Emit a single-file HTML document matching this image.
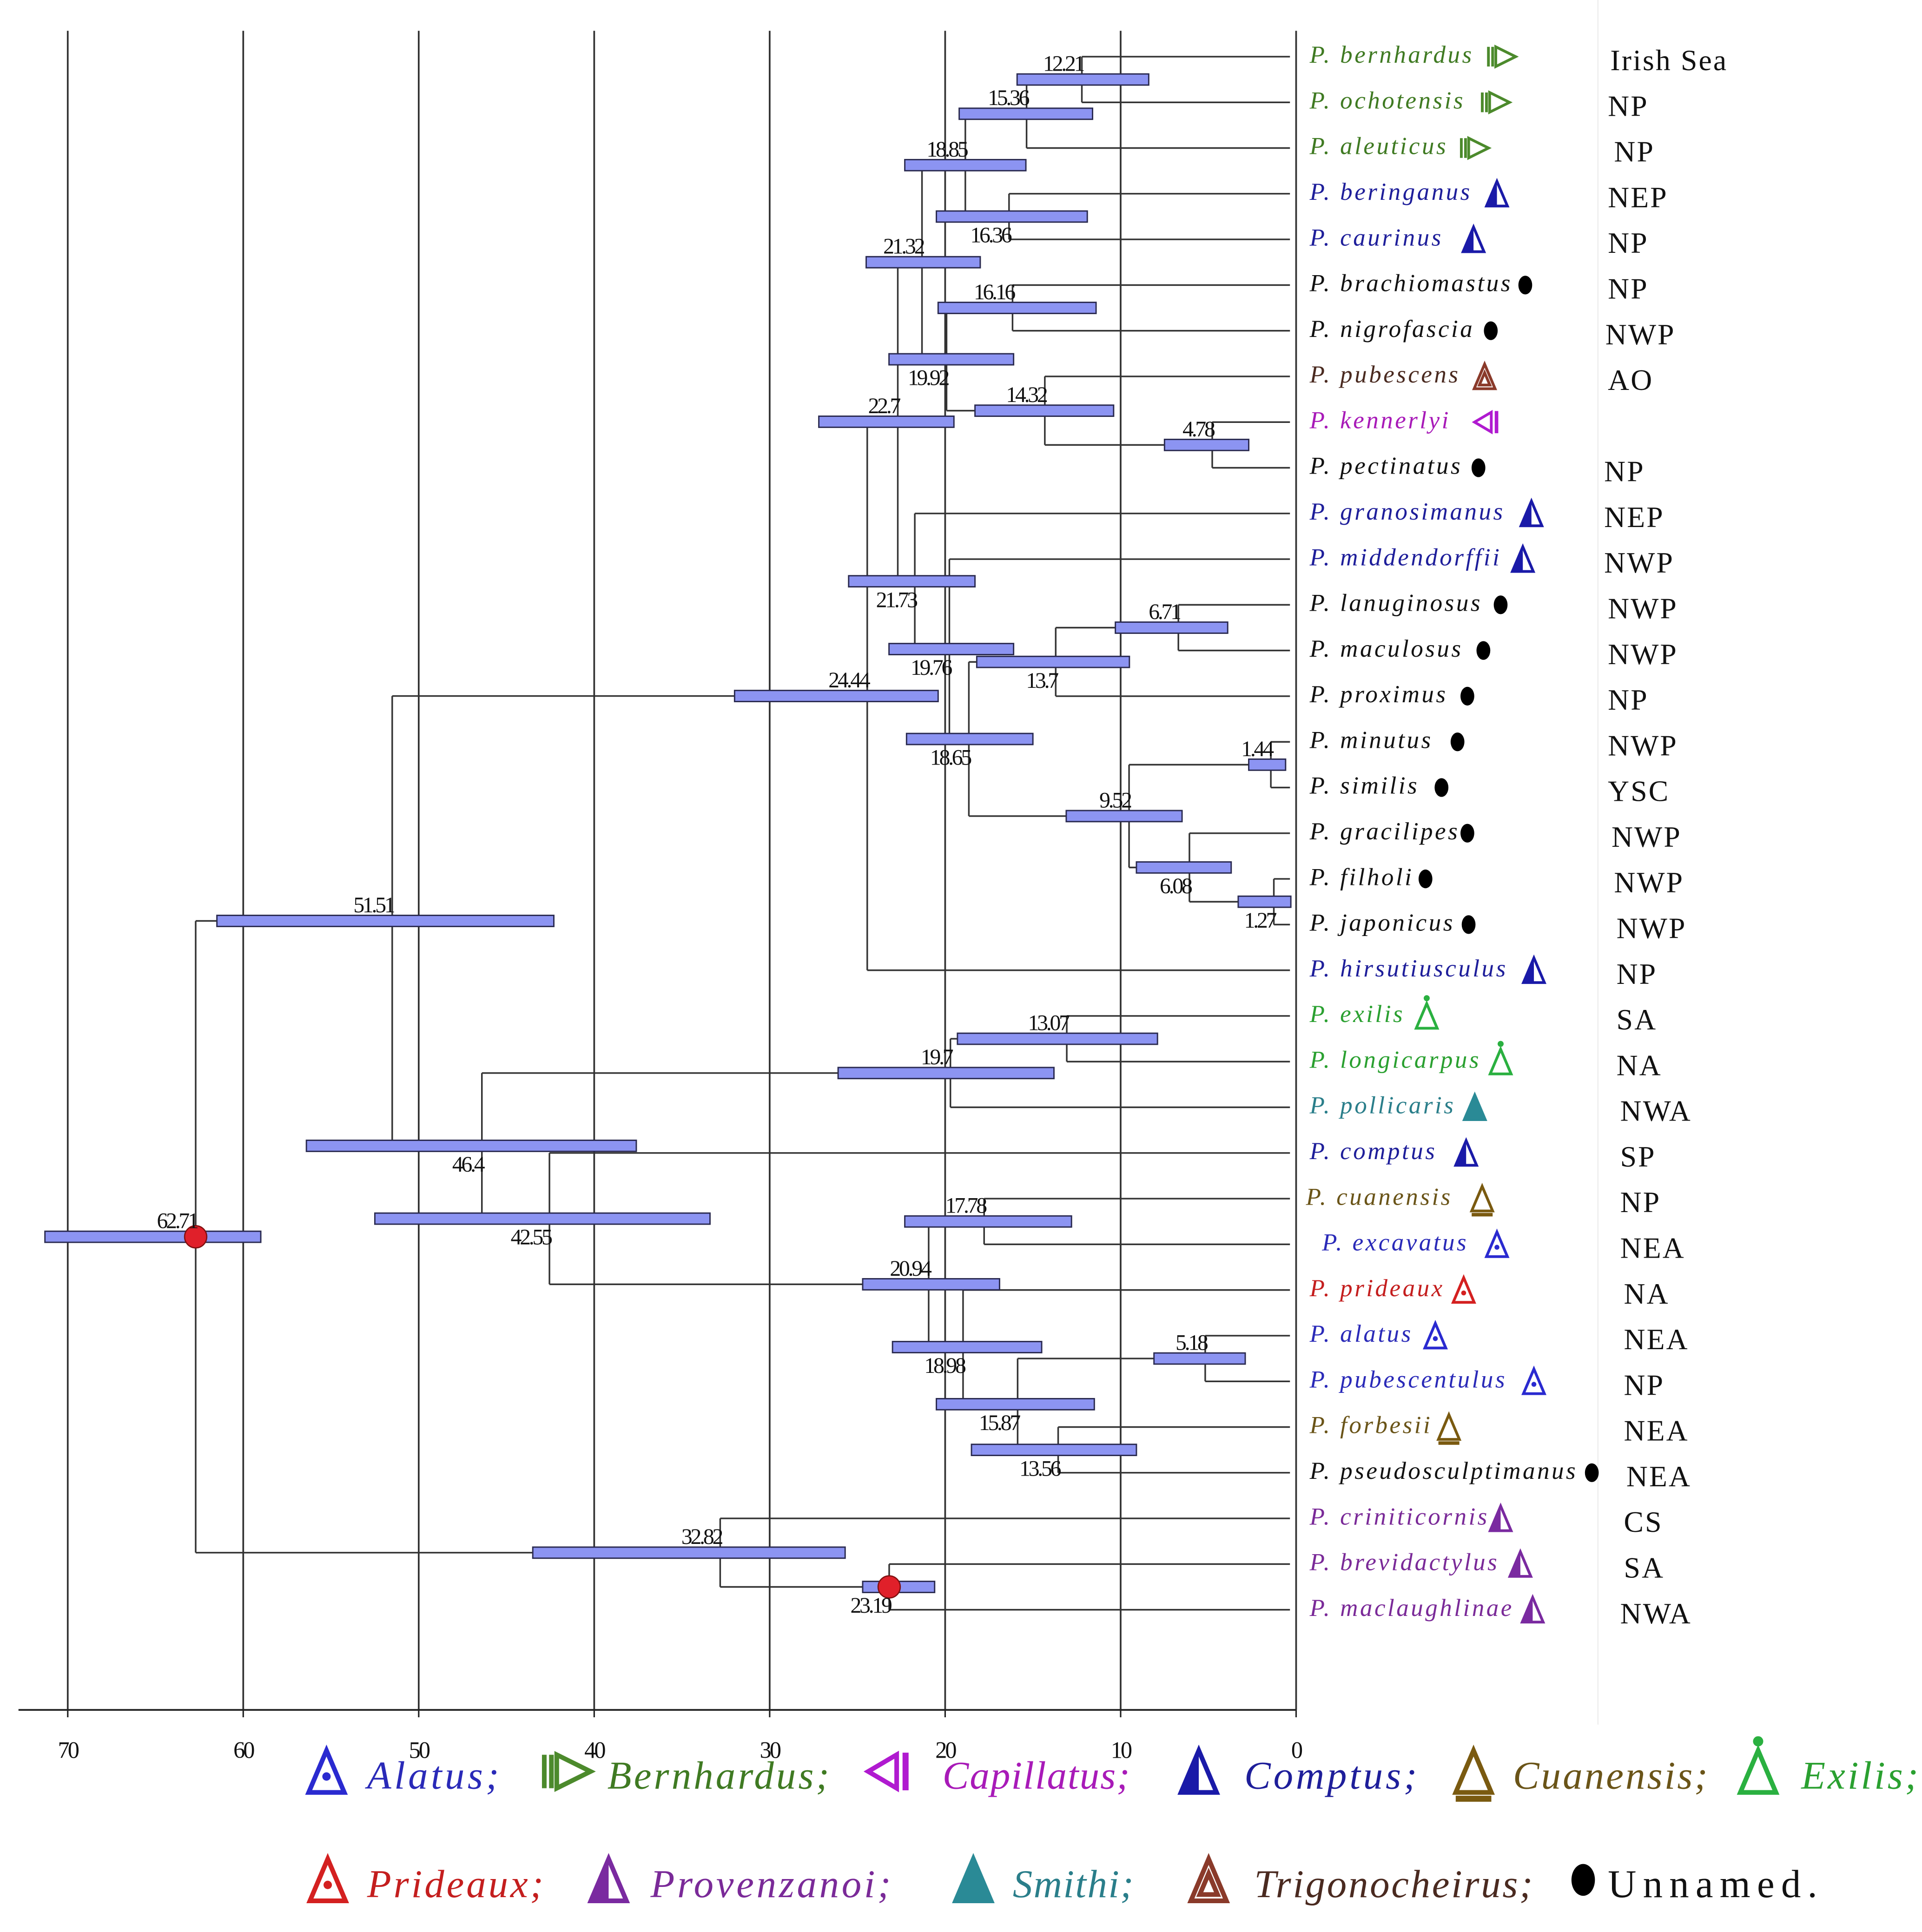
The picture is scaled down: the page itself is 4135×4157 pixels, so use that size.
<!DOCTYPE html>
<html><head><meta charset="utf-8"><style>
html,body{margin:0;padding:0;background:#fff;}
svg{display:block;}
</style></head><body>
<svg id="chart" xmlns="http://www.w3.org/2000/svg" width="4135" height="4157" viewBox="0 0 1560 1568.3" preserveAspectRatio="none">
<rect x="0" y="0" width="1560" height="1568.3" fill="#fff"/>
<g id="grid"></g>
<g id="tree"></g>
<g id="bars"></g>
<g id="nlabels"></g>
<g id="tips"></g>
<g id="axis"></g>
<g id="legend"></g>
</svg>
<script>
const NS='http://www.w3.org/2000/svg';
// ---------- data ----------
const tipNames=['bernhardus','ochotensis','aleuticus','beringanus','caurinus','brachiomastus','nigrofascia','pubescens','kennerlyi','pectinatus','granosimanus','middendorffii','lanuginosus','maculosus','proximus','minutus','similis','gracilipes','filholi','japonicus','hirsutiusculus','exilis','longicarpus','pollicaris','comptus','cuanensis','excavatus','prideaux','alatus','pubescentulus','forbesii','pseudosculptimanus','criniticornis','brevidactylus','maclaughlinae'];
const tipGroups=['Bernhardus','Bernhardus','Bernhardus','Comptus','Comptus','Unnamed','Unnamed','Trigonocheirus','Capillatus','Unnamed','Comptus','Comptus','Unnamed','Unnamed','Unnamed','Unnamed','Unnamed','Unnamed','Unnamed','Unnamed','Comptus','Exilis','Exilis','Smithi','Comptus','Cuanensis','Alatus','Prideaux','Alatus','Alatus','Cuanensis','Unnamed','Provenzanoi','Provenzanoi','Provenzanoi'];
const tipRegions=['Irish Sea','NP','NP','NEP','NP','NP','NWP','AO','','NP','NEP','NWP','NWP','NWP','NP','NWP','YSC','NWP','NWP','NWP','NP','SA','NA','NWA','SP','NP','NEA','NA','NEA','NP','NEA','NEA','CS','SA','NWA'];
const nodeIds=['n1221','n1536','n1636','n1885','n1616','n478','n1432','n1992','n2132','n671','n137','n144','n127','n608','n952','n1865','n1976','n2173','n227','n2444','n1307','n197','n1778','n518','n1356','n1587','n1898','n2094','n4255','n464','n5151','n2319','n3282','n6271'];
const nodeAges=[12.21,15.36,16.36,18.85,16.16,4.78,14.32,19.92,21.32,6.71,13.7,1.44,1.27,6.08,9.52,18.65,19.76,21.73,22.7,24.44,13.07,19.7,17.78,5.18,13.56,15.87,18.98,20.94,42.55,46.4,51.51,23.19,32.82,62.71];
const nodeLo=[15.9,19.2,20.5,22.3,20.4,7.5,18.3,23.2,24.5,10.3,18.2,2.7,3.3,9.1,13.1,22.2,23.2,25.5,27.2,32.0,19.3,26.1,22.3,8.1,18.5,20.5,23.0,24.7,52.5,56.4,61.5,24.7,43.5,71.3];
const nodeHi=[8.4,11.6,11.9,15.4,11.4,2.7,10.4,16.1,18.0,3.9,9.5,0.6,0.3,3.7,6.5,15.0,16.1,18.3,19.5,20.4,7.9,13.8,12.8,2.9,9.1,11.5,14.5,16.9,33.4,37.6,42.3,20.6,25.7,59.0];
const nodeKids=[[0,1],['n1221',2],[3,4],['n1536','n1636'],[5,6],[8,9],[7,'n478'],['n1616','n1432'],['n1885','n1992'],[12,13],['n671',14],[15,16],[18,19],[17,'n127'],['n144','n608'],['n137','n952'],[11,'n1865'],[10,'n1976'],['n2132','n2173'],['n227',20],[21,22],['n1307',23],[25,26],[28,29],[30,31],['n518','n1356'],[27,'n1587'],['n1778','n1898'],[24,'n2094'],['n197','n4255'],['n2444','n464'],[33,34],[32,'n2319'],['n5151','n3282']];
const axisTicks=[70,60,50,40,30,20,10,0];
// ---------- styling (not data) ----------
const labelBelow={n1636:1,n1992:1,n2173:1,n1976:1,n137:1,n1865:1,n608:1,n127:1,n464:1,n4255:1,n1898:1,n1587:1,n1356:1,n2319:1};
const redDots={n6271:1,n2319:1};
const groupColor={Alatus:'#2a2ad0',Bernhardus:'#4c8a2c',Capillatus:'#b01ad0',Comptus:'#1a1aa8',Cuanensis:'#7a5a10',Exilis:'#2ab040',Prideaux:'#d42020',Provenzanoi:'#7a2aa0',Smithi:'#2a8a96',Trigonocheirus:'#8a3a2a',Unnamed:'#000'};
const textColor={Alatus:'#2a2ab8',Bernhardus:'#3f7a22',Capillatus:'#a81ab8',Comptus:'#1e1e9a',Cuanensis:'#6a5418',Exilis:'#2aa030',Prideaux:'#c41e1e',Provenzanoi:'#7a2a98',Smithi:'#2a7e8a',Trigonocheirus:'#4a2a20',Unnamed:'#111'};
const symX=[1220,1215,1198,1215,1196,1238,1210,1205,1207,1200,1243,1236,1218,1204,1191,1183,1170,1191,1157,1192,1245,1158,1218,1197,1190,1203,1215,1188,1165,1245,1176,1292,1218,1234,1244];
const regX=[1307,1305,1310,1305,1305,1305,1303,1305,1305,1302,1302,1302,1305,1305,1305,1305,1305,1308,1310,1312,1312,1312,1312,1315,1315,1315,1315,1318,1318,1318,1318,1320,1318,1318,1315];

const X=a=>1052-a*14.243;
const yTip=i=>46+i*37.08;
const TIP_END=1047;

function mk(tag,attrs,parent){const e=document.createElementNS(NS,tag);for(const k in attrs)e.setAttribute(k,attrs[k]);if(parent)parent.appendChild(e);return e;}
const G=id=>document.getElementById(id);

// grid
axisTicks.forEach(t=>{
  const l=mk('line',{x1:X(t),x2:X(t),y1:25,y2:1388,stroke:'#333','stroke-width':1.4},G('grid'));
  
  
});
const sep=mk('line',{x1:1297,x2:1297,y1:0,y2:1400,stroke:'#eee','stroke-width':1},G('grid'));



// compute node positions
const npos={};
function posOf(k){ if(typeof k==='number') return {x:TIP_END,y:yTip(k)}; return npos[k]; }
nodeIds.forEach((id,i)=>{
  const kids=nodeKids[i].map(posOf);
  const ys=kids.map(p=>p.y);
  npos[id]={x:X(nodeAges[i]),y:(Math.min(...ys)+Math.max(...ys))/2,kids:kids};
});
// branches
nodeIds.forEach((id,i)=>{
  const p=npos[id];
  const ys=p.kids.map(q=>q.y);
  const v=mk('line',{x1:p.x,x2:p.x,y1:Math.min(...ys),y2:Math.max(...ys),stroke:'#333','stroke-width':1.3},G('tree'));
  
  
  p.kids.forEach(q=>{
    const h=mk('line',{x1:p.x,x2:q.x,y1:q.y,y2:q.y,stroke:'#333','stroke-width':1.3},G('tree'));
    
    
  });
  const b=mk('rect',{x:X(nodeLo[i]),y:p.y-4.5,width:X(nodeHi[i])-X(nodeLo[i]),height:9,fill:'#8c94f2',stroke:'#2a2a50','stroke-width':1.1},G('bars'));
  
  
  const below=labelBelow[id];
  const t=mk('text',{x:p.x+1,y:below?p.y+21:p.y-7,'text-anchor':'end','font-family':'Liberation Serif, serif','font-size':18,'letter-spacing':-1.6,fill:'#111'},G('nlabels'));
  t.textContent=String(nodeAges[i]);
  
  
  if(redDots[id]){
    const c=mk('circle',{cx:p.x,cy:p.y,r:9,fill:'#e0202a',stroke:'#801010','stroke-width':1},G('bars'));
    
    
  }
});

// symbols
function symbol(group,cx,cy,s,parent){
  const g=mk('g',{},parent);
  const c=groupColor[group];
  const sw=s/9;
  const h=s, w=s*0.85;
  const tri=(fill)=>mk('polygon',{points:`${cx},${cy-h/2} ${cx-w/2},${cy+h/2} ${cx+w/2},${cy+h/2}`,fill:fill||'none',stroke:c,'stroke-width':sw},g);
  if(group==='Unnamed'){mk('ellipse',{cx:cx,cy:cy,rx:s*0.28,ry:s*0.38,fill:'#000'},g);}
  else if(group==='Bernhardus'){
    mk('line',{x1:cx-w*0.7,x2:cx-w*0.7,y1:cy-h*0.4,y2:cy+h*0.4,stroke:c,'stroke-width':sw},g);
    mk('line',{x1:cx-w*0.5,x2:cx-w*0.5,y1:cy-h*0.4,y2:cy+h*0.4,stroke:c,'stroke-width':sw},g);
    mk('polygon',{points:`${cx-w*0.35},${cy-h*0.4} ${cx+w*0.6},${cy} ${cx-w*0.35},${cy+h*0.4}`,fill:'none',stroke:c,'stroke-width':sw},g);
  } else if(group==='Capillatus'){
    mk('polygon',{points:`${cx+w*0.2},${cy-h*0.4} ${cx-w*0.6},${cy} ${cx+w*0.2},${cy+h*0.4}`,fill:'none',stroke:c,'stroke-width':sw},g);
    mk('line',{x1:cx+w*0.45,x2:cx+w*0.45,y1:cy-h*0.45,y2:cy+h*0.45,stroke:c,'stroke-width':sw*1.3},g);
  } else if(group==='Comptus'||group==='Provenzanoi'||group==='Smithi'){
    tri(group==='Smithi'?c:null);
    mk('polygon',{points:`${cx},${cy-h/2} ${cx-w/2},${cy+h/2} ${cx},${cy+h/2}`,fill:c},g);
  } else if(group==='Trigonocheirus'){
    tri();
    mk('polygon',{points:`${cx},${cy-h*0.15} ${cx-w*0.25},${cy+h*0.35} ${cx+w*0.25},${cy+h*0.35}`,fill:'none',stroke:c,'stroke-width':sw},g);
  } else if(group==='Cuanensis'){
    tri();
    mk('line',{x1:cx-w/2,x2:cx+w/2,y1:cy+h*0.65,y2:cy+h*0.65,stroke:c,'stroke-width':sw*1.3},g);
  } else if(group==='Exilis'){
    tri();
    mk('circle',{cx:cx,cy:cy-h*0.72,r:sw*1.1,fill:c},g);
  } else {
    tri();
    mk('circle',{cx:cx,cy:cy+h*0.12,r:sw*0.9,fill:c},g);
  }
  return g;
}

// tips
tipNames.forEach((n,i)=>{
  const y=yTip(i), grp=tipGroups[i];
  const lx=(n==='excavatus')?1073:(n==='cuanensis'?1060:1063);
  const t=mk('text',{x:lx,y:y+5,'font-family':'Liberation Serif, serif','font-style':'italic','font-size':20,'letter-spacing':1.7,fill:textColor[grp]},G('tips'));
  t.textContent='P. '+n;
  
  
  const s=symbol(grp,symX[i],y,20,G('tips'));
  
  
  if(tipRegions[i]){
    const r=mk('text',{x:regX[i],y:y+11,'font-family':'Liberation Serif, serif','font-size':24,'letter-spacing':1.2,fill:'#111'},G('tips'));
    r.textContent=tipRegions[i];
    
    
  }
});

// axis
const al=mk('line',{x1:15,x2:1052,y1:1388,y2:1388,stroke:'#222','stroke-width':1.4},G('axis'));


axisTicks.forEach(t=>{
  const tk=mk('line',{x1:X(t),x2:X(t),y1:1388,y2:1394,stroke:'#222','stroke-width':1.2},G('axis'));
  
  
  const tl=mk('text',{x:X(t),y:1427,'text-anchor':'middle','font-family':'Liberation Serif, serif','font-size':19,'letter-spacing':-1.5,fill:'#111'},G('axis'));
  tl.textContent=String(t);
  
  
});

// legend: [group, text, symbol x, text x, y, text width]
const legendItems=[
 ['Alatus','Alatus;',265,298,1442,107],['Bernhardus','Bernhardus;',462,493,1442,180],['Capillatus','Capillatus;',722,765,1442,152],
 ['Comptus','Comptus;',973,1010,1442,140],['Cuanensis','Cuanensis;',1196,1228,1442,158],['Exilis','Exilis;',1427,1462,1442,95],
 ['Prideaux','Prideaux;',266,298,1530,143],['Provenzanoi','Provenzanoi;',494,528,1530,195],['Smithi','Smithi;',790,822,1530,98],
 ['Trigonocheirus','Trigonocheirus;',981,1018,1530,226],['Unnamed','Unnamed.',1285,1305,1530,170]];
legendItems.forEach(it=>{
  const s=symbol(it[0],it[2],it[4]-4,34,G('legend'));
  
  
  const un=it[0]==='Unnamed';
  const t=mk('text',{x:it[3],y:it[4]+10,'font-family':'Liberation Serif, serif','font-style':un?'normal':'italic','font-size':32,textLength:it[5],lengthAdjust:'spacing',fill:un?'#111':textColor[it[0]]},G('legend'));
  t.textContent=it[1];
  
  
});
</script>
</body></html>
